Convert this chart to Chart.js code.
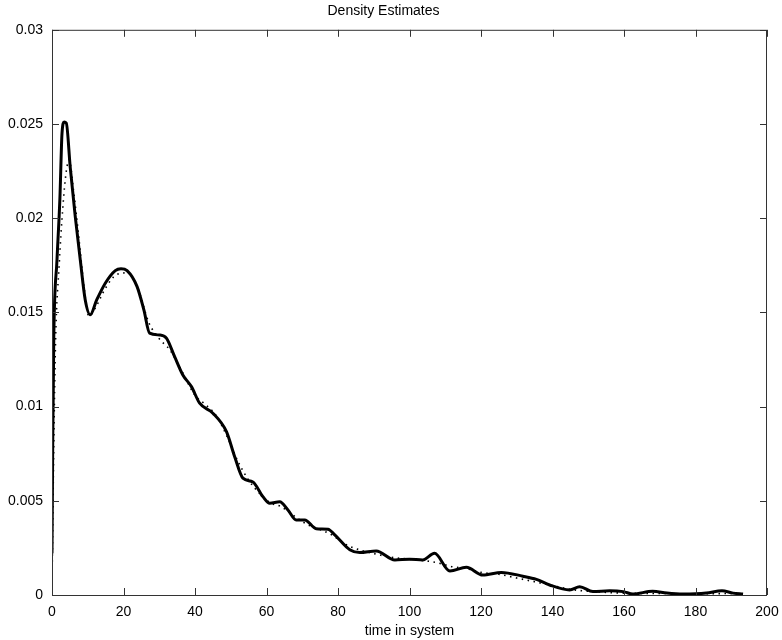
<!DOCTYPE html>
<html>
<head>
<meta charset="utf-8">
<script src="https://cdn.jsdelivr.net/npm/chart.js@4.4.0/dist/chart.umd.min.js"></script>
<style>
  html, body { margin: 0; padding: 0; background: #fff; }
  #wrap { width: 782px; height: 640px; }
</style>
</head>
<body>
<div id="wrap"><canvas id="chart"></canvas></div>
<script>
// solid curve (time, density)
var solidX = [0, 0.2, 0.5, 1.4, 2.2, 2.8, 3.4, 4, 5.1, 6.5, 7.9, 9.3, 10.7, 12.5, 14.9, 17.7, 19.3, 21, 23.8, 25.7, 27.3,
              30.1, 32, 34.3, 36.6, 39, 41.3, 45, 48.8, 51.1, 53.4, 56.2, 59, 60.9, 63.7, 66, 68.3, 70.7, 73.9, 77.2, 79.1,
              83.3, 86.1, 90.7, 95.9, 100, 103.7, 107, 111.3, 115.9, 120.5, 125.7, 131.7, 135.5, 139.2, 144.8, 147.6,
              151.3, 156, 159.8, 162.5, 168, 172, 176.5, 183, 187.4, 190.5, 193.3];
var solidY = [0.0022, 0.008, 0.0137, 0.0178, 0.021, 0.0245, 0.0251, 0.02505, 0.0227, 0.0201, 0.0178, 0.01566, 0.01487,
              0.01566, 0.01655, 0.01722, 0.01732, 0.01722, 0.01637, 0.01513, 0.0139, 0.0138, 0.01363, 0.01265, 0.01168, 0.01106,
              0.01018, 0.00965, 0.00867, 0.00734, 0.0062, 0.006, 0.00522, 0.00487, 0.00495, 0.00451, 0.00398, 0.00398,
              0.00352, 0.00349, 0.00319, 0.0024, 0.00225, 0.00234, 0.00186, 0.0019, 0.00186, 0.00221, 0.00127, 0.00147,
              0.00106, 0.0012, 0.001, 0.00083, 0.00053, 0.00027, 0.00044, 0.00018, 0.00023, 0.00018, 0.00005, 0.0002,
              0.0001, 0.00005, 0.0001, 0.00023, 0.0001, 0.00005];

// dotted curve (smoother estimate)
var dottedX = [0, 0.5, 1, 2, 3, 4, 4.8, 6, 7.5, 9, 10.3, 12, 15, 18, 21, 24, 27, 30, 33, 36, 40, 43, 46, 49, 52, 55, 58,
               61, 64, 67, 70, 73, 76, 79, 82, 86, 90, 95, 100, 105, 108, 112, 116, 120, 125, 130, 135, 140, 145, 150,
               160, 170, 180, 190, 193];
var dottedY = [0.0005, 0.008, 0.0135, 0.0175, 0.0205, 0.0225, 0.0231, 0.0215, 0.019, 0.0163, 0.0148, 0.0152, 0.0163,
               0.017, 0.0171, 0.0163, 0.0145, 0.0136, 0.013, 0.012, 0.0106, 0.0101, 0.0095, 0.0084, 0.0071, 0.0061,
               0.0054, 0.0049, 0.0047, 0.0043, 0.0039, 0.0036, 0.0034, 0.0031, 0.0027, 0.0024, 0.0022, 0.002, 0.0019,
               0.0018, 0.0017, 0.0015, 0.0014, 0.0012, 0.0011, 0.0009, 0.0007, 0.0005, 0.0003, 0.0002, 0.0001, 0.00008,
               0.00006, 0.00008, 0.00005];

var xTicks = [0, 20, 40, 60, 80, 100, 120, 140, 160, 180, 200];
var yTicks = [0, 0.005, 0.01, 0.015, 0.02, 0.025, 0.03];

function toPoints(xs, ys) {
  var pts = [];
  for (var i = 0; i < xs.length; ++i) pts.push({ x: xs[i], y: ys[i] });
  return pts;
}

// box and inward ticks on all four sides, like the original plot
var boxTicks = {
  id: 'boxTicks',
  afterDraw: function (chart) {
    var ctx = chart.ctx, a = chart.chartArea;
    var sx = chart.scales.x, sy = chart.scales.y;
    ctx.save();
    ctx.strokeStyle = '#333';
    ctx.lineWidth = 1;
    ctx.strokeRect(a.left + 0.5, a.top + 0.5, a.right - a.left - 1, a.bottom - a.top);
    ctx.beginPath();
    xTicks.forEach(function (v) {
      var px = Math.round(sx.getPixelForValue(v)) + 0.5;
      ctx.moveTo(px, a.bottom); ctx.lineTo(px, a.bottom - 7);
      ctx.moveTo(px, a.top); ctx.lineTo(px, a.top + 7);
    });
    yTicks.forEach(function (v) {
      var py = Math.round(sy.getPixelForValue(v)) + 0.5;
      ctx.moveTo(a.left, py); ctx.lineTo(a.left + 7, py);
      ctx.moveTo(a.right, py); ctx.lineTo(a.right - 7, py);
    });
    ctx.stroke();
    ctx.restore();
  }
};

Chart.defaults.font.family = '"Liberation Sans", Arial, sans-serif';
Chart.defaults.color = '#000';

new Chart(document.getElementById('chart'), {
  type: 'line',
  data: {
    datasets: [
      {
        label: 'solid',
        data: toPoints(solidX, solidY),
        borderColor: '#000',
        borderWidth: 3,
        pointRadius: 0,
        cubicInterpolationMode: 'monotone',
        fill: false
      },
      {
        label: 'dotted',
        data: toPoints(dottedX, dottedY),
        borderColor: '#000',
        borderWidth: 1.6,
        borderDash: [1.5, 4.5],
        pointRadius: 0,
        cubicInterpolationMode: 'monotone',
        fill: false
      }
    ]
  },
  options: {
    responsive: true,
    maintainAspectRatio: false,
    animation: false,
    layout: { padding: { left: 0, right: 15, top: 0, bottom: 0 } },
    plugins: {
      legend: { display: false },
      tooltip: { enabled: false },
      title: {
        display: true,
        text: 'Density Estimates',
        font: { size: 14, weight: 'normal' },
        padding: { top: 3, bottom: 10 }
      }
    },
    scales: {
      x: {
        type: 'linear',
        min: 0,
        max: 200,
        afterBuildTicks: function (s) { s.ticks = xTicks.map(function (v) { return { value: v }; }); },
        grid: { display: false, drawTicks: false },
        border: { display: false },
        ticks: { font: { size: 14 }, padding: 9, maxRotation: 0 },
        title: { display: true, text: 'time in system', font: { size: 14 }, padding: { top: 0, bottom: 0 } },
        afterFit: function (s) { s.height = 45; s.paddingLeft = 0; s.paddingRight = 0; }
      },
      y: {
        min: 0,
        max: 0.03,
        afterBuildTicks: function (s) { s.ticks = yTicks.map(function (v) { return { value: v }; }); },
        grid: { display: false, drawTicks: false },
        border: { display: false },
        ticks: {
          font: { size: 14 },
          padding: 9,
          callback: function (v) { return String(Number(v.toFixed(3))); }
        },
        afterFit: function (s) { s.width = 52; }
      }
    }
  },
  plugins: [boxTicks]
});
</script>
</body>
</html>
